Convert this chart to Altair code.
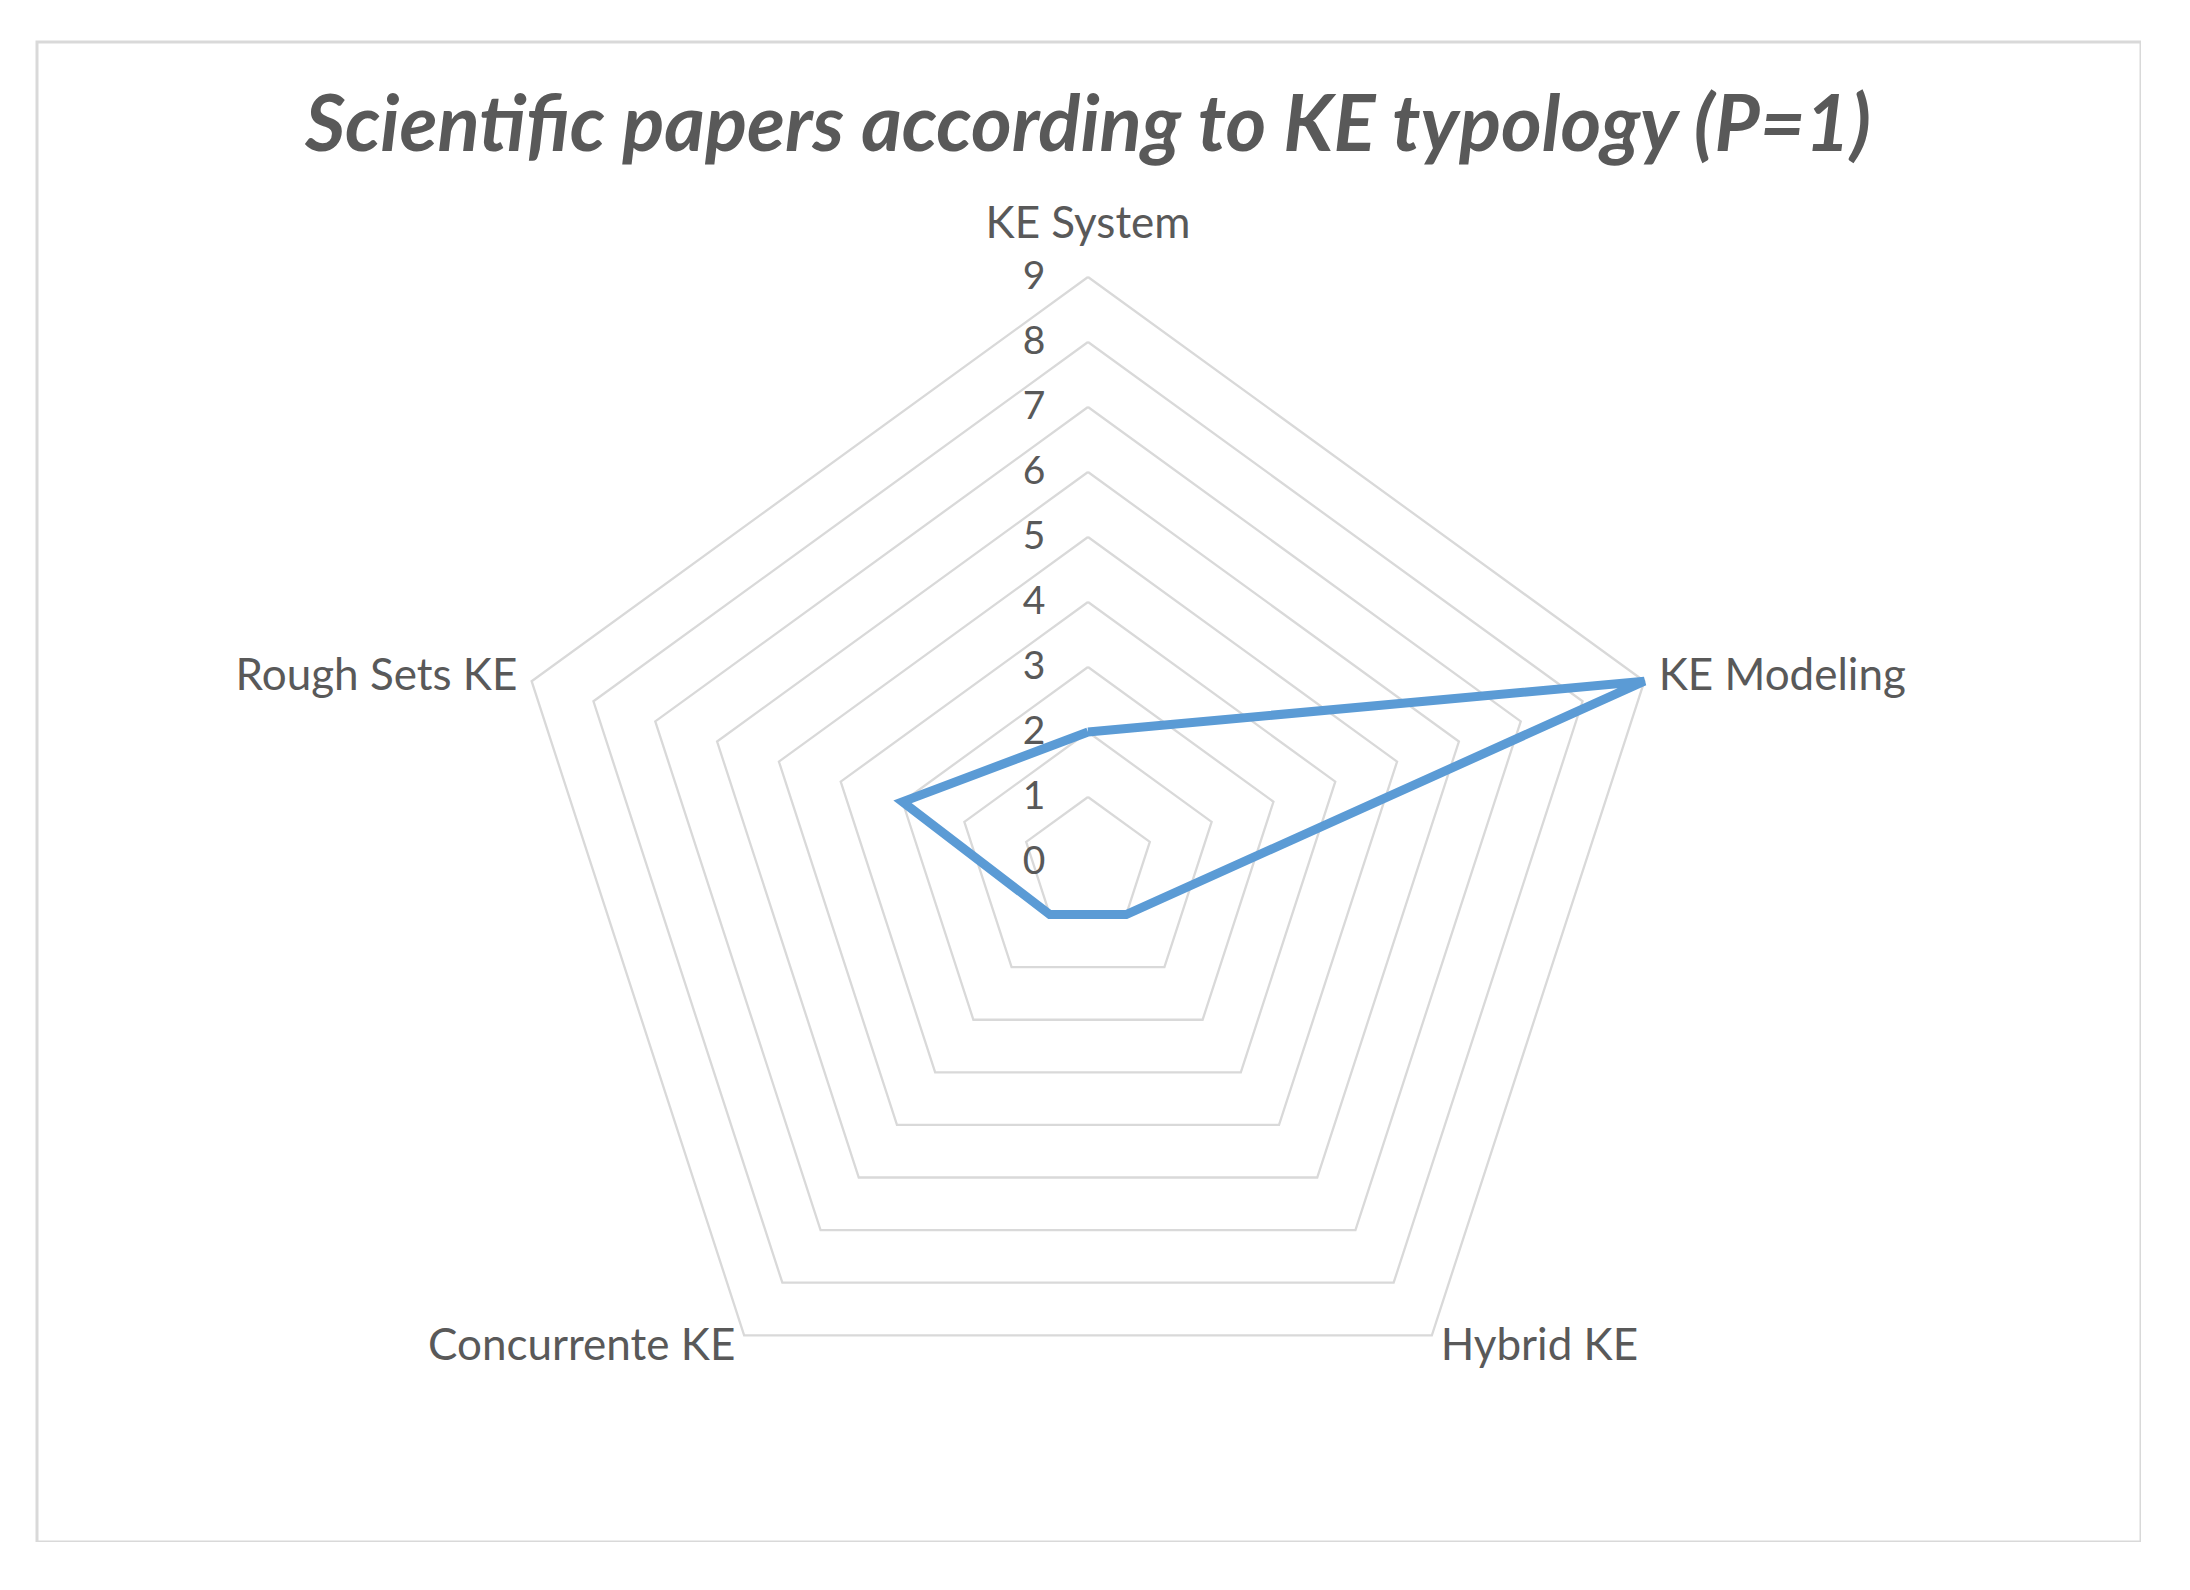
import altair as alt
import pandas as pd

# ---- data ----
categories = ["KE System", "KE Modeling", "Hybrid KE", "Concurrente KE", "Rough Sets KE"]
values = [2, 9, 1, 1, 3]
tick_values = [0, 1, 2, 3, 4, 5, 6, 7, 8, 9]
title_text = "Scientific papers according to KE typology (P=1)"

# ---- layout / style ----
UNIT = 65            # pixels per value unit on the radial axis
W, H = 2104, 1500    # plot area (the bordered frame)
CX, CY = 1051, 820   # radar centre inside the frame, in pixels
FONT = "Lato"
TEXT_COLOR = "#595959"
GRID_COLOR = "#d9d9d9"
LINE_COLOR = "#5b9bd5"
LABEL_SIZE = 44

n = len(categories)
max_level = max(tick_values)

series = pd.DataFrame({
    "cat": categories + [categories[0]],
    "value": values + [values[0]],
    "i": list(range(n)) + [n],
})

grid_rows = []
for lv in tick_values[1:]:
    for i in range(n + 1):
        grid_rows.append({"level": lv, "i": i})
grid = pd.DataFrame(grid_rows)

ticks = pd.DataFrame({"tick": tick_values, "label": [str(t) for t in tick_values]})
labels = pd.DataFrame({"cat": categories, "i": list(range(n))})

xs = alt.Scale(domain=[-CX, W - CX], nice=False, zero=False)
ys = alt.Scale(domain=[-(H - CY), CY], nice=False, zero=False)


def X(field="x"):
    return alt.X(f"{field}:Q", scale=xs, axis=None)


def Y(field="y"):
    return alt.Y(f"{field}:Q", scale=ys, axis=None)


theta = f"2*PI*datum.i/{n}"

grid_layer = alt.Chart(grid).transform_calculate(
    x=f"datum.level*{UNIT}*sin({theta})",
    y=f"datum.level*{UNIT}*cos({theta})",
).mark_line(color=GRID_COLOR, strokeWidth=2.3).encode(
    x=X(), y=Y(), detail="level:N", order=alt.Order("i:Q")
)

series_layer = alt.Chart(series).transform_calculate(
    x=f"datum.value*{UNIT}*sin({theta})",
    y=f"datum.value*{UNIT}*cos({theta})",
).mark_line(color=LINE_COLOR, strokeWidth=9, strokeJoin="miter").encode(
    x=X(), y=Y(), order=alt.Order("i:Q")
)

tick_layer = alt.Chart(ticks).transform_calculate(
    x="-54",
    y=f"datum.tick*{UNIT}",
).mark_text(font=FONT, fontSize=39, color=TEXT_COLOR, align="center", baseline="middle").encode(
    x=X(), y=Y(), text="label:N"
)

R_LAB = max_level * UNIT + 15
lab_base = alt.Chart(labels).transform_calculate(
    s=f"sin({theta})",
    x=f"{R_LAB}*sin({theta})",
    y=f"(datum.i == 0 ? {max_level * UNIT + 52} : {R_LAB}*cos({theta}))",
)
lab_center = lab_base.transform_filter("abs(datum.s) < 0.01").mark_text(
    font=FONT, fontSize=LABEL_SIZE, color=TEXT_COLOR, align="center", baseline="middle"
).encode(x=X(), y=Y(), text="cat:N")
lab_left = lab_base.transform_filter("datum.s > 0.01").mark_text(
    font=FONT, fontSize=LABEL_SIZE, color=TEXT_COLOR, align="left", baseline="middle"
).encode(x=X(), y=Y(), text="cat:N")
lab_right = lab_base.transform_filter("datum.s < -0.01").mark_text(
    font=FONT, fontSize=LABEL_SIZE, color=TEXT_COLOR, align="right", baseline="middle"
).encode(x=X(), y=Y(), text="cat:N")

title_layer = alt.Chart(pd.DataFrame({"t": [title_text]})).transform_calculate(
    x="0", y="734"
).mark_text(
    font=FONT, fontSize=78, fontStyle="italic", fontWeight="bold",
    color=TEXT_COLOR, align="center", baseline="middle"
).encode(x=X(), y=Y(), text="t:N")

chart = alt.layer(
    grid_layer, series_layer, tick_layer, lab_center, lab_left, lab_right, title_layer
).properties(
    width=W, height=H,
    padding={"left": 29, "top": 34, "right": 0, "bottom": 0},
).configure_view(stroke=GRID_COLOR, strokeWidth=3)

chart.save("out.html", embed_options={"renderer": "svg", "actions": False})
